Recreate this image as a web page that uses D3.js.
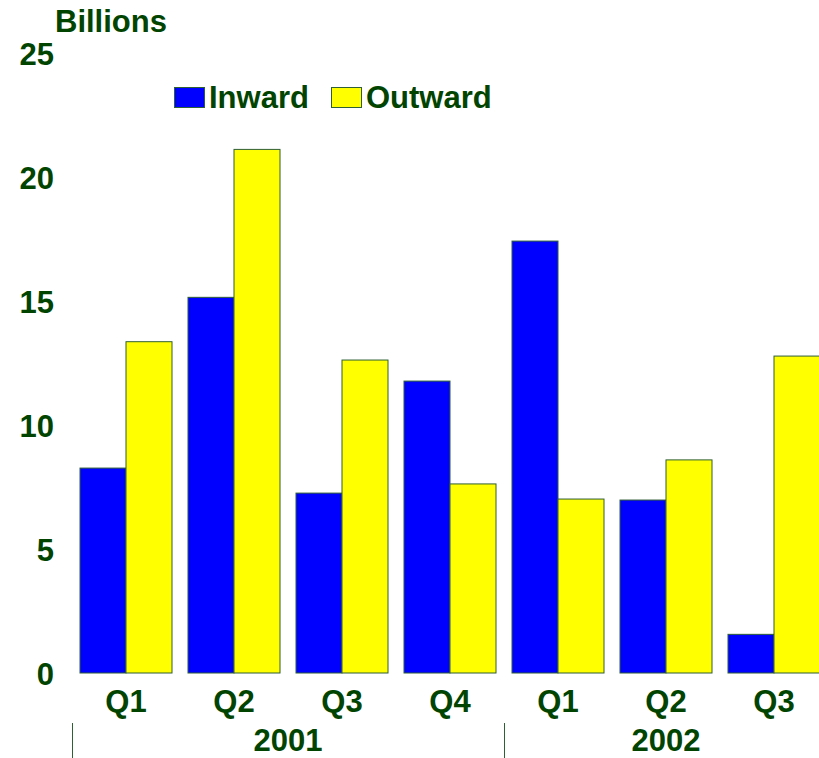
<!DOCTYPE html>
<meta charset="utf-8">
<style>
  body { margin: 0; background: #fff; }
  svg { display: block; }
  text { font-family: "Liberation Sans", Arial, sans-serif; font-weight: bold; fill: #004400; }
  .bar { stroke: #2f5f35; stroke-width: 1px; }
</style>
<body>
<script src="https://cdn.jsdelivr.net/npm/d3@7/dist/d3.min.js"></script>
<script>
  // data
  var quarters = ["Q1", "Q2", "Q3", "Q4", "Q1", "Q2", "Q3"];
  var years = [{label: "2001", from: 0, to: 4}, {label: "2002", from: 4, to: 7}];
  var inward  = [8.27, 15.16, 7.26, 11.78, 17.43, 6.98, 1.56];
  var outward = [13.37, 21.13, 12.63, 7.63, 7.02, 8.6, 12.79];
  var seriesNames = ["Inward", "Outward"];
  var colors = {Inward: "#0000ff", Outward: "#ffff00"};
  var yTicks = [0, 5, 10, 15, 20, 25];

  var width = 819, height = 758;
  var fontSize = "31px";

  var svg = d3.select("body").append("svg")
      .attr("width", width)
      .attr("height", height);

  var keys = d3.range(quarters.length);
  var x0 = d3.scaleBand().domain(keys).range([72, 72 + 108 * keys.length]);
  var x1 = d3.scaleBand().domain(seriesNames).range([8, 100]);
  var y = d3.scaleLinear().domain([0, 25]).range([673, 53.5]);

  var data = keys.map(function(i) {
    return {key: i, values: [{name: "Inward", v: inward[i]}, {name: "Outward", v: outward[i]}]};
  });

  // bars
  svg.append("g").selectAll("g")
    .data(data)
    .enter().append("g")
      .attr("transform", function(d) { return "translate(" + x0(d.key) + ",0)"; })
    .selectAll("rect")
    .data(function(d) { return d.values; })
    .enter().append("rect")
      .attr("class", "bar")
      .attr("x", function(d) { return x1(d.name); })
      .attr("width", x1.bandwidth())
      .attr("y", function(d) { return y(d.v); })
      .attr("height", function(d) { return y(0) - y(d.v); })
      .attr("fill", function(d) { return colors[d.name]; });

  // y axis labels
  var yAxis = svg.append("g")
      .attr("transform", "translate(54,0)")
      .call(d3.axisLeft(y).tickValues(yTicks).tickSize(0).tickPadding(0));
  yAxis.select(".domain").remove();
  yAxis.selectAll("text")
      .attr("font-family", null)
      .style("font-size", fontSize)
      .attr("dy", "0.36em");

  svg.append("text")
      .attr("x", 55)
      .attr("y", 32)
      .style("font-size", fontSize)
      .text("Billions");

  // quarter labels
  var xAxis = svg.append("g")
      .attr("transform", "translate(0,712)")
      .call(d3.axisBottom(x0).tickSize(0).tickPadding(0).tickFormat(function(i) { return quarters[i]; }));
  xAxis.select(".domain").remove();
  xAxis.selectAll("text")
      .attr("font-family", null)
      .attr("y", 0)
      .attr("dy", 0)
      .style("font-size", fontSize);

  // year labels and dividers
  years.forEach(function(yr) {
    var left = x0(yr.from);
    var right = x0(yr.to - 1) + x0.bandwidth();
    svg.append("line")
        .attr("x1", left + 0.5).attr("x2", left + 0.5)
        .attr("y1", 723).attr("y2", 758)
        .attr("stroke", "#2f5f35")
        .attr("stroke-width", 1);
    svg.append("text")
        .attr("x", (left + right) / 2)
        .attr("y", 751)
        .attr("text-anchor", "middle")
        .style("font-size", fontSize)
        .text(yr.label);
  });

  // legend
  var legendX = [174, 331];
  var legend = svg.append("g");
  seriesNames.forEach(function(name, i) {
    legend.append("rect")
        .attr("class", "bar")
        .attr("x", legendX[i] + 0.5)
        .attr("y", 87.5)
        .attr("width", 30)
        .attr("height", 20)
        .attr("fill", colors[name]);
    legend.append("text")
        .attr("x", legendX[i] + 35)
        .attr("y", 108)
        .style("font-size", fontSize)
        .text(name);
  });
</script>
</body>
